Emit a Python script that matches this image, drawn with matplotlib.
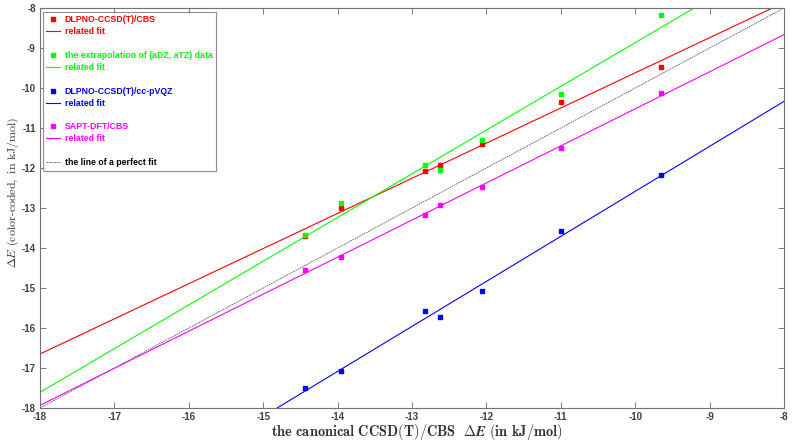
import numpy as np
import matplotlib
matplotlib.use("Agg")
import matplotlib.pyplot as plt
from matplotlib.lines import Line2D

plt.rcParams['mathtext.fontset'] = 'cm'
plt.rcParams['font.family'] = ['Liberation Sans', 'DejaVu Sans']

x_ref = [-14.44, -13.95, -12.82, -12.62, -12.06, -11.00, -9.65]
y_dlpno_cbs = [-13.70, -12.99, -12.07, -11.92, -11.39, -10.34, -9.47]
y_extrap = [-13.68, -12.87, -11.92, -12.04, -11.30, -10.15, -8.18]
y_dlpno_qz = [-17.49, -17.07, -15.58, -15.73, -15.07, -13.58, -12.18]
y_sapt = [-14.54, -14.23, -13.17, -12.93, -12.48, -11.49, -10.13]

series_labels = ["DLPNO-CCSD(T)/CBS", "the extrapolation of (aDZ, aTZ) data",
                 "DLPNO-CCSD(T)/cc-pVQZ", "SAPT-DFT/CBS"]
colors = ["#FF0000", "#00FF00", "#0000FF", "#FF00FF"]
ticks = list(range(-18, -7))

fig = plt.figure(figsize=(7.93, 4.41), dpi=100)
ax = fig.add_axes([0.0504, 0.0748, 0.9383, 0.9071])

xx = np.array([-18.0, -8.0])
handles, labels, tcolors = [], [], []
for ys, lab, c in zip([y_dlpno_cbs, y_extrap, y_dlpno_qz, y_sapt], series_labels, colors):
    ax.plot(x_ref, ys, 's', color=c, markersize=3.5, zorder=3)
    p = np.polyfit(x_ref, ys, 1)
    ax.plot(xx, np.polyval(p, xx), '-', color=c, lw=0.8, zorder=2)
    handles += [Line2D([], [], marker='s', ls='none', color=c, markersize=3.5),
                Line2D([], [], color=c, lw=0.8),
                Line2D([], [], ls='none')]
    labels += [lab, "related fit", " "]
    tcolors += [c, c, c]

ax.plot(xx, xx, color='0.35', lw=0.6, ls=(0, (2, 1)), zorder=1)
handles.append(Line2D([], [], color='0.35', lw=0.6, ls=(0, (2, 1))))
labels.append("the line of a perfect fit")
tcolors.append('black')

ax.set_xlim(-18, -8)
ax.set_ylim(-18, -8)
ax.set_xticks(ticks)
ax.set_yticks(ticks)
ax.set_xticklabels([str(t) for t in ticks], fontsize=7, fontweight='bold', color='0.25')
ax.set_yticklabels([str(t) for t in ticks], fontsize=7, fontweight='bold', color='0.25')
ax.tick_params(direction='in', top=True, right=True, length=4, width=0.6, color='0.4', pad=3)
for s in ax.spines.values():
    s.set_color('0.45')
    s.set_linewidth(0.8)

ax.set_xlabel(r"$\mathbf{the\ canonical\ CCSD(T)/CBS}\ \ \Delta \boldsymbol{E}\ \mathbf{(in\ kJ/mol)}$",
              fontsize=10.4, color='0.2')
ax.xaxis.set_label_coords(0.506, -0.036)
ax.set_ylabel(r"$\Delta E\ \mathrm{(color\text{-}coded,\ in\ kJ/mol)}$",
              fontsize=8.6, color='0.2')
ax.yaxis.set_label_coords(-0.025, 0.54)

leg = ax.legend(handles, labels, loc='upper left', bbox_to_anchor=(0.004, 0.99),
                frameon=True, fancybox=False, edgecolor='0.45', fontsize=6.3,
                handlelength=1.6, handletextpad=0.5, labelspacing=0.33, borderpad=0.4,
                borderaxespad=0.0)
leg.get_frame().set_linewidth(0.8)
for t, c in zip(leg.get_texts(), tcolors):
    t.set_color(c)
    t.set_fontweight('bold')

fig.savefig("out.png", dpi=100)
